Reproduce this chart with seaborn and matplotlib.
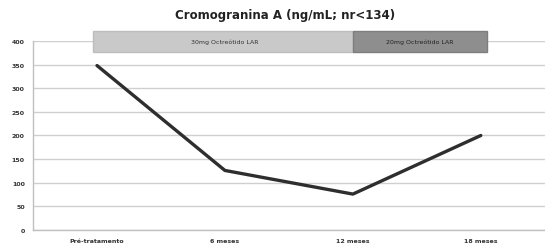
import matplotlib
matplotlib.use("Agg")
import matplotlib.pyplot as plt
from matplotlib.patches import Rectangle
import seaborn as sns
import pandas as pd

categories = ["Pré-tratamento", "6 meses", "12 meses", "18 meses"]
values = [348, 126, 76, 200]
yticks = [0, 50, 100, 150, 200, 250, 300, 350, 400]
banner_labels = ["30mg Octreótido LAR", "20mg Octreótido LAR"]
title = "Cromogranina A (ng/mL; nr<134)"

df = pd.DataFrame({"cat": categories, "val": values})

sns.set_theme(style="white")
plt.rcParams["font.family"] = ["DejaVu Sans"]

fig = plt.figure(figsize=(5.45, 2.51), dpi=100)
ax = fig.add_axes([0.0606, 0.0797, 0.939, 0.753])

sns.lineplot(data=df, x="cat", y="val", sort=False, color="#2e2e2e",
             linewidth=2.4, ax=ax)

ax.set_xlim(-0.5, 3.5)
ax.set_ylim(0, 400)
ax.set_yticks(yticks)
ax.set_yticklabels([str(t) for t in yticks], fontsize=4.5, color="#333333",
                   fontweight="bold")
ax.set_xticks(range(len(categories)))
ax.set_xticklabels(categories, fontsize=4.5, color="#333333", fontweight="bold")
ax.tick_params(axis="x", length=0, pad=6)
ax.tick_params(axis="y", length=0, pad=6)
ax.set_xticks([0.5, 1.5, 2.5], minor=True)
ax.tick_params(axis="x", which="minor", length=3, color="#cccccc", width=0.8)
ax.set_xlabel("")
ax.set_ylabel("")
ax.yaxis.grid(True, color="#cfcfcf", linewidth=1.0)
ax.set_axisbelow(True)
for s in ["top", "right"]:
    ax.spines[s].set_visible(False)
for s in ["left", "bottom"]:
    ax.spines[s].set_color("#c0c0c0")
    ax.spines[s].set_linewidth(1.0)

# treatment banners
ax.add_patch(Rectangle((-0.03, 377), 2.03, 44, facecolor="#c9c9c9",
                       edgecolor="#bdbdbd", clip_on=False, zorder=3))
ax.add_patch(Rectangle((2.0, 377), 1.05, 44, facecolor="#8e8e8e",
                       edgecolor="#7e7e7e", clip_on=False, zorder=3))
ax.text(1.0, 399, banner_labels[0], ha="center", va="center", fontsize=4.5,
        color="#333333", zorder=4)
ax.text(2.525, 399, banner_labels[1], ha="center", va="center", fontsize=4.5,
        color="#222222", zorder=4)

fig.text(0.523, 0.94, title, ha="center", va="center", fontsize=8.5,
         fontweight="bold", color="#222222")

fig.savefig("out.png", dpi=100)
